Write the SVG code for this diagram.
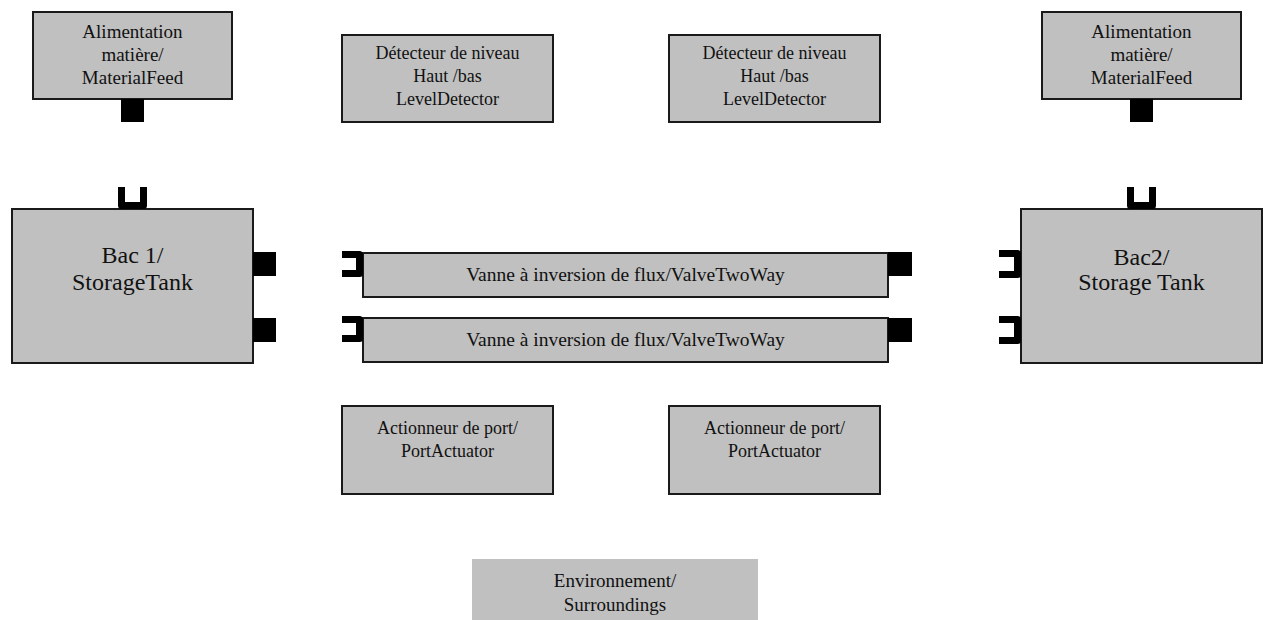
<svg xmlns="http://www.w3.org/2000/svg" width="1263" height="620" viewBox="0 0 1263 620">
<style>
.box{fill:#c0c0c0;stroke:#1a1a1a;stroke-width:2}
.env{fill:#c0c0c0}
.t{font-family:"Liberation Serif","Times New Roman",serif;font-size:19px;fill:#111;text-anchor:middle}
.ts{font-family:"Liberation Serif","Times New Roman",serif;font-size:18px;fill:#111;text-anchor:middle}
.tv{font-family:"Liberation Serif","Times New Roman",serif;font-size:19.5px;fill:#111;text-anchor:middle}
.tb{font-family:"Liberation Serif","Times New Roman",serif;font-size:24px;fill:#111;text-anchor:middle}
.pin{fill:#000}
.pout{fill:none;stroke:#000;stroke-width:7;stroke-linejoin:round;stroke-linecap:butt}
</style>
<rect width="1263" height="620" fill="#fff"/>
<g id="feed1">
<rect class="box" x="33" y="12" width="199" height="87"/>
<text class="t" x="132.5" y="38">Alimentation</text>
<text class="t" x="132.5" y="61">matière/</text>
<text class="t" x="132.5" y="84">MaterialFeed</text>
<rect class="pin" x="121" y="99" width="23" height="23"/>
</g>
<g id="feed2">
<rect class="box" x="1042" y="12" width="199" height="87"/>
<text class="t" x="1141.5" y="38">Alimentation</text>
<text class="t" x="1141.5" y="61">matière/</text>
<text class="t" x="1141.5" y="84">MaterialFeed</text>
<rect class="pin" x="1130" y="99" width="23" height="23"/>
</g>
<g id="detector1">
<rect class="box" x="342" y="35" width="211" height="87"/>
<text class="ts" x="447.5" y="59">Détecteur de niveau</text>
<text class="ts" x="447.5" y="82">Haut /bas</text>
<text class="ts" x="447.5" y="105">LevelDetector</text>
</g>
<g id="detector2">
<rect class="box" x="669" y="35" width="211" height="87"/>
<text class="ts" x="774.5" y="59">Détecteur de niveau</text>
<text class="ts" x="774.5" y="82">Haut /bas</text>
<text class="ts" x="774.5" y="105">LevelDetector</text>
</g>
<g id="tank1">
<rect class="box" x="12" y="209" width="241" height="154"/>
<text class="tb" x="132.5" y="263">Bac 1/</text>
<text class="tb" x="132.5" y="290">StorageTank</text>
<path class="pout" d="M121.5 187 V205.5 H143.5 V187"/>
<rect class="pin" x="253" y="252" width="23" height="24"/>
<rect class="pin" x="253" y="318" width="23" height="24"/>
</g>
<g id="tank2">
<rect class="box" x="1021" y="209" width="241" height="154"/>
<text class="tb" x="1141.5" y="265">Bac2/</text>
<text class="tb" x="1141.5" y="290">Storage Tank</text>
<path class="pout" d="M1130.5 187 V205.5 H1152.5 V187"/>
<path class="pout" d="M999 253.5 H1017.5 V274.5 H999"/>
<path class="pout" d="M999 319.5 H1017.5 V340.5 H999"/>
</g>
<g id="valve1">
<rect class="box" x="363" y="253" width="525" height="44"/>
<text class="tv" x="625.5" y="281">Vanne à inversion de flux/ValveTwoWay</text>
<path class="pout" d="M342 254.5 H359.5 V273.5 H342"/>
<rect class="pin" x="888" y="252" width="24" height="24"/>
</g>
<g id="valve2">
<rect class="box" x="363" y="318" width="525" height="44"/>
<text class="tv" x="625.5" y="346">Vanne à inversion de flux/ValveTwoWay</text>
<path class="pout" d="M342 319.5 H359.5 V338.5 H342"/>
<rect class="pin" x="888" y="318" width="24" height="24"/>
</g>
<g id="actuator1">
<rect class="box" x="342" y="406" width="211" height="88"/>
<text class="ts" x="447.5" y="434">Actionneur de port/</text>
<text class="ts" x="447.5" y="457">PortActuator</text>
</g>
<g id="actuator2">
<rect class="box" x="669" y="406" width="211" height="88"/>
<text class="ts" x="774.5" y="434">Actionneur de port/</text>
<text class="ts" x="774.5" y="457">PortActuator</text>
</g>
<g id="surroundings">
<rect class="env" x="472" y="559" width="286" height="65"/>
<text class="t" x="615" y="587">Environnement/</text>
<text class="t" x="615" y="611">Surroundings</text>
</g>
<g id="connectors"></g>
</svg>
